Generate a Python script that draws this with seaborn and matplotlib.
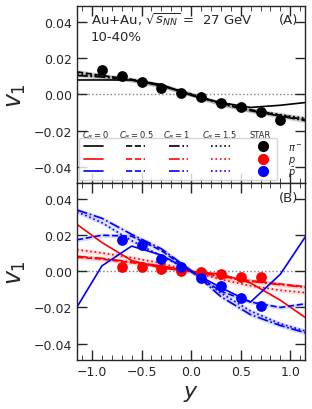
import numpy as np
import pandas as pd
import matplotlib
matplotlib.use("Agg")
import matplotlib.pyplot as plt
from matplotlib.lines import Line2D
import seaborn as sns

# rapidity grid of the model curves
rap = [-1.15, -0.9, -0.6, -0.3, 0.0, 0.3, 0.6, 0.9, 1.15]

# pi- (panel A), C_B = 0, 0.5, 1, 1.5
pim_cb0 = [0.008, 0.008, 0.008, 0.0055, -0.0005, -0.0045, -0.0072, -0.006, -0.0045]
pim_cb05 = [0.0125, 0.0105, 0.0083, 0.005, 0.0, -0.005, -0.0085, -0.0115, -0.014]
pim_cb1 = [0.0105, 0.0097, 0.008, 0.0048, 0.0, -0.0052, -0.009, -0.012, -0.0145]
pim_cb15 = [0.0115, 0.010, 0.0082, 0.005, 0.0002, -0.005, -0.0087, -0.0112, -0.0132]

# proton (panel B)
p_cb0 = [0.026, 0.016, 0.006, 0.0018, 0.0, -0.0015, -0.0065, -0.016, -0.0255]
p_cb05 = [0.0078, 0.0068, 0.0048, 0.0028, 0.0, -0.0028, -0.0052, -0.007, -0.0085]
p_cb1 = [0.0083, 0.0072, 0.0052, 0.003, 0.0, -0.003, -0.0055, -0.0074, -0.0088]
p_cb15 = [0.012, 0.0102, 0.0076, 0.0045, 0.0, -0.0045, -0.008, -0.0105, -0.0118]

# anti-proton (panel B)
pbar_cb0 = [-0.0197, 0.003, 0.014, 0.009, 0.0, -0.009, -0.017, -0.0016, 0.019]
pbar_cb05 = [0.0175, 0.020, 0.0195, 0.0115, 0.0, -0.011, -0.017, -0.020, -0.018]
pbar_cb1 = [0.034, 0.0294, 0.0205, 0.0125, 0.0005, -0.014, -0.024, -0.030, -0.034]
pbar_cb15 = [0.033, 0.027, 0.017, 0.0085, 0.0, -0.012, -0.022, -0.029, -0.033]

# STAR data
star_rap_pim = [-0.9, -0.7, -0.5, -0.3, -0.1, 0.1, 0.3, 0.5, 0.7, 0.9]
star_pim = [0.0137, 0.0102, 0.0071, 0.0033, 0.0009, -0.0015, -0.0046, -0.0068, -0.0096, -0.0143]
star_rap_p = [-0.7, -0.5, -0.3, -0.1, 0.1, 0.3, 0.5, 0.7]
star_p = [0.0026, 0.0026, 0.0015, 0.0002, -0.0004, -0.0016, -0.0029, -0.0029]
star_pbar = [0.0175, 0.0148, 0.0071, 0.0026, -0.0035, -0.0080, -0.0146, -0.0190]

band = 0.0012
cb_labels = ["$C_B = 0$", "$C_B = 0.5$", "$C_B = 1$", "$C_B = 1.5$"]
styles = ["-", "--", "-.", ":"]

sns.set_style("ticks")
plt.rcParams["font.family"] = ["DejaVu Sans"]
plt.rcParams["mathtext.fontset"] = "dejavusans"

fig, (ax1, ax2) = plt.subplots(2, 1, figsize=(3.12, 4.10), dpi=100, sharex=True)
fig.subplots_adjust(left=0.247, right=0.978, top=0.983, bottom=0.12, hspace=0)


def draw_model(ax, curves, color, band_color):
    for vals, ls in zip(curves, styles):
        df = pd.DataFrame({"y": rap, "v1": vals})
        if ls != "-":
            lo = np.array(vals) - band
            hi = np.array(vals) + band
            ax.fill_between(rap, lo, hi, color=band_color, alpha=0.3, lw=0)
        sns.lineplot(data=df, x="y", y="v1", ax=ax, color=color, lw=1.2,
                     linestyle=ls, legend=False)


# panel A
draw_model(ax1, [pim_cb0, pim_cb05, pim_cb1, pim_cb15], "black", "gray")
sns.scatterplot(x=star_rap_pim, y=star_pim, ax=ax1, color="black", s=60,
                linewidth=0, zorder=5)

# panel B
draw_model(ax2, [p_cb0, p_cb05, p_cb1, p_cb15], "red", "#ff9999")
draw_model(ax2, [pbar_cb0, pbar_cb05, pbar_cb1, pbar_cb15], "blue", "#8888ff")
sns.scatterplot(x=star_rap_p, y=star_p, ax=ax2, color="red", s=60,
                linewidth=0, zorder=5)
sns.scatterplot(x=star_rap_p, y=star_pbar, ax=ax2, color="blue", s=60,
                linewidth=0, zorder=5)

for ax in (ax1, ax2):
    ax.axhline(0, color="gray", linestyle=":", lw=1, zorder=0)
    ax.set_xlim(-1.15, 1.15)
    ax.set_ylim(-0.049, 0.049)
    ax.set_yticks([-0.04, -0.02, 0.0, 0.02, 0.04])
    ax.set_xticks([-1.0, -0.5, 0.0, 0.5, 1.0])
    ax.set_xticks(np.arange(-1.1, 1.15, 0.1), minor=True)
    ax.tick_params(direction="in", top=True, right=True, labelsize=9,
                   length=7, width=1)
    ax.tick_params(which="minor", direction="in", top=True, length=3.5)
    ax.set_ylabel("$v_1$", fontsize=17)
    ax.set_xlabel("")
    for sp in ax.spines.values():
        sp.set_linewidth(1)

ax2.set_xlabel("$y$", fontsize=16)
ax2.set_xticklabels(["\u22121.0", "\u22120.5", "0.0", "0.5", "1.0"])

ax1.text(0.06, 0.925, "Au+Au, $\\sqrt{s_{NN}}$ =  27 GeV", transform=ax1.transAxes,
         fontsize=9.5, va="center")
ax1.text(0.06, 0.83, "10-40%", transform=ax1.transAxes, fontsize=9.5, va="center")
ax1.text(0.97, 0.925, "(A)", transform=ax1.transAxes, fontsize=9.5,
         va="center", ha="right")
ax2.text(0.97, 0.915, "(B)", transform=ax2.transAxes, fontsize=9.5,
         va="center", ha="right")

# legend grid: columns = C_B values + STAR, rows = species
handles = []
for ls in styles:
    for c in ["black", "red", "blue"]:
        handles.append(Line2D([], [], color=c, linestyle=ls, lw=1.2))
for c in ["black", "red", "blue"]:
    handles.append(Line2D([], [], color=c, marker="o", linestyle="none",
                          markersize=7))
ax1.legend(handles, [""] * len(handles), ncol=5, loc="lower left",
           bbox_to_anchor=(0.01, 0.015), fontsize=6, handlelength=2.3,
           handletextpad=0.0, columnspacing=2.8, labelspacing=0.4,
           frameon=True, borderpad=0.5, borderaxespad=0)

header_x = [95, 136, 176, 219, 260]
for hx, lab in zip(header_x, cb_labels + ["STAR"]):
    ax1.text((hx - 77) / 228, 0.273, lab, transform=ax1.transAxes, fontsize=6,
             ha="center", va="center")
for ry, lab in zip([0.2, 0.13, 0.063], ["$\\pi^-$", "$p$", "$\\bar{p}$"]):
    ax1.text(0.925, ry, lab, transform=ax1.transAxes, fontsize=7,
             ha="left", va="center")

plt.savefig("out.png", dpi=100)
plt.close()
